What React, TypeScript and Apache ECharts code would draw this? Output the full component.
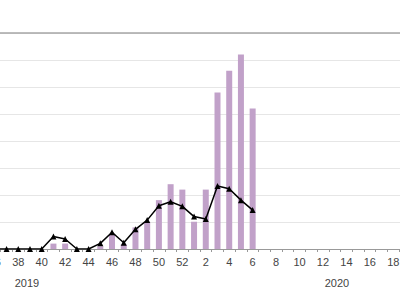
import React, { useEffect, useRef } from "react";
import * as echarts from "echarts";

// Weeks: 2019 weeks 27..52, then 2020 weeks 1..26
const weeks2019: number[] = [27, 28, 29, 30, 31, 32, 33, 34, 35, 36, 37, 38, 39, 40, 41, 42, 43, 44, 45, 46, 47, 48, 49, 50, 51, 52];
const weeks2020: number[] = [1, 2, 3, 4, 5, 6, 7, 8, 9, 10, 11, 12, 13, 14, 15, 16, 17, 18, 19, 20, 21, 22, 23, 24, 25, 26];

// Bar values (2019 wk27..52, 2020 wk1..26)
const barValues2019: (number | null)[] = [0, 0, 0, 0, 0, 0, 0, 0, 0, 0, 0, 0, 0, 0, 2, 2, 0, 0, 1, 5.2, 1.7, 8, 10, 18.1, 24, 22];
const barValues2020: (number | null)[] = [10.1, 22, 58, 66, 72, 52, null, null, null, null, null, null, null, null, null, null, null, null, null, null, null, null, null, null, null, null];

// Line values
const lineValues2019: (number | null)[] = [0, 0, 0, 0, 0, 0, 0, 0, 0, 0, 0, 0, 0, 0, 4.6, 3.7, 0, 0, 2.1, 6.2, 2.3, 7.3, 10.7, 16, 17.5, 15.8];
const lineValues2020: (number | null)[] = [12, 11.1, 23.3, 22.3, 18.1, 14.4, null, null, null, null, null, null, null, null, null, null, null, null, null, null, null, null, null, null, null, null];

const yearLabels: { year: string; week: number; yearIndex: number }[] = [
  { year: "2019", week: 39, yearIndex: 0 },
  { year: "2020", week: 13, yearIndex: 1 },
];

// Visible tick-label window (the reference is a crop of a wider chart)
const firstLabelWeek2019 = 36;
const lastLabelWeek2020 = 18;

const categories: string[] = [...weeks2019.map(String), ...weeks2020.map(String)];
const barData = [...barValues2019, ...barValues2020];
const lineData = [...lineValues2019, ...lineValues2020];
const yearIdx = yearLabels.map((y) => (y.yearIndex === 0 ? weeks2019.indexOf(y.week) : weeks2019.length + weeks2020.indexOf(y.week)));
const firstIdx = weeks2019.indexOf(firstLabelWeek2019);
const lastIdx = weeks2019.length + weeks2020.indexOf(lastLabelWeek2020);

const SHIFT = 200;

export default function App() {
  const ref = useRef<HTMLDivElement>(null);
  useEffect(() => {
    document.body.style.margin = "0";
    if (!ref.current) return;
    const chart = echarts.init(ref.current, null, { renderer: "svg" });
    const font = "Liberation Sans";
    chart.setOption({
      animation: false,
      textStyle: { fontFamily: font },
      grid: { left: -116.5 + SHIFT, width: 609.4, top: 33, height: 216 },
      xAxis: [
        {
          type: "category",
          data: categories,
          position: "bottom",
          axisLine: { show: true, lineStyle: { color: "#999", width: 1 } },
          axisTick: { show: true, interval: 0, length: 3, lineStyle: { color: "#999" } },
          axisLabel: {
            interval: (i: number, v: string) => i >= firstIdx && i <= lastIdx && Number(v) % 2 === 0,
            color: "#444",
            fontSize: 11,
            fontFamily: font,
            margin: 7,
          },
          splitLine: { show: false },
        },
        {
          type: "category",
          data: categories,
          position: "bottom",
          offset: 20,
          axisLine: { show: false },
          axisTick: { show: false },
          axisLabel: {
            interval: (i: number) => yearIdx.includes(i),
            formatter: (_v: string, i: number) => {
              const k = yearIdx.indexOf(i);
              return k >= 0 ? (k === 0 ? "{a|" + yearLabels[k].year + "}" : "{b|" + yearLabels[k].year + "}") : "";
            },
            rich: {
              a: { color: "#444", fontSize: 11, fontFamily: font, padding: [0, 6, 0, 0] },
              b: { color: "#444", fontSize: 11, fontFamily: font, padding: [0, 0, 0, 4.6] },
            },
            margin: 8,
          },
        },
        {
          type: "category",
          data: categories,
          position: "top",
          axisLine: { show: true, lineStyle: { color: "#a6a6a6", width: 1.5 } },
          axisTick: { show: false },
          axisLabel: { show: false },
        },
      ],
      yAxis: {
        type: "value",
        min: 0,
        max: 80,
        interval: 10,
        axisLine: { show: false },
        axisTick: { show: false },
        axisLabel: { show: false },
        splitLine: { show: true, lineStyle: { color: "#e6e6e6", width: 1 } },
      },
      series: [
        {
          type: "bar",
          data: barData,
          barWidth: 6,
          itemStyle: { color: "#c1a1c9" },
          xAxisIndex: 0,
        },
        {
          type: "line",
          data: lineData,
          xAxisIndex: 0,
          symbol: "triangle",
          symbolSize: 6,
          showSymbol: true,
          lineStyle: { color: "#000", width: 1.5 },
          itemStyle: { color: "#000" },
          connectNulls: false,
        },
      ],
    });
    return () => chart.dispose();
  }, []);
  return (
    <div style={{ position: "relative", width: 400, height: 300, overflow: "hidden" }}>
      <div ref={ref} style={{ position: "absolute", left: -SHIFT, top: 0, width: 400 + 2 * SHIFT, height: 300 }} />
    </div>
  );
}
